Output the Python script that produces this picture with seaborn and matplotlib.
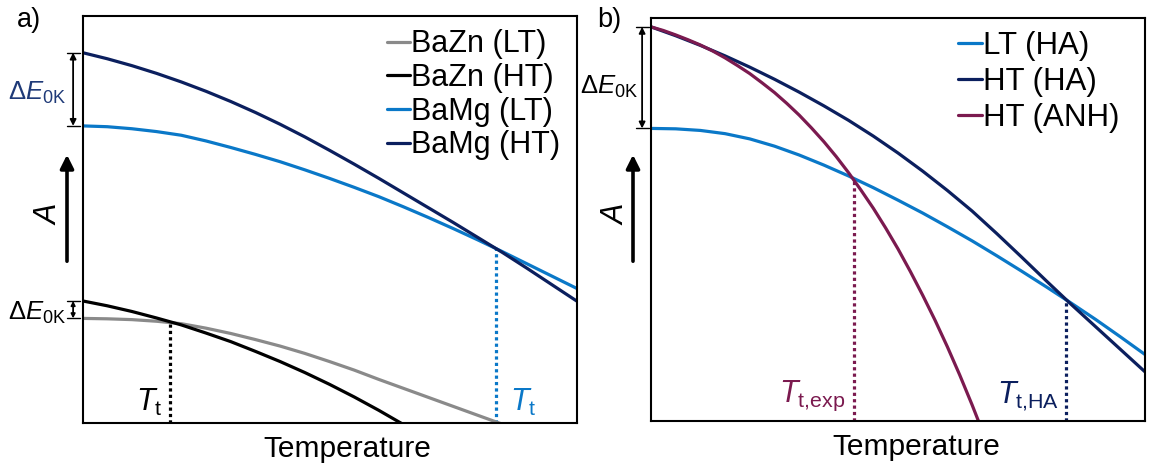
import numpy as np
import pandas as pd
import matplotlib.pyplot as plt
import matplotlib.patches as mpatches
import matplotlib.transforms as mtrans
import seaborn as sns

# schematic free energy A(T) curves (x: temperature, y: A, both 0..1)
temperature = [0.00, 0.05, 0.10, 0.15, 0.20, 0.25, 0.30, 0.35, 0.40, 0.45, 0.50,
               0.55, 0.60, 0.65, 0.70, 0.75, 0.80, 0.85, 0.90, 0.95, 1.00]
# finer grid for the steep anharmonic curve
temperature_fine = [0.000, 0.025, 0.050, 0.075, 0.100, 0.125, 0.150, 0.175, 0.200,
                    0.225, 0.250, 0.275, 0.300, 0.325, 0.350, 0.375, 0.400, 0.425,
                    0.450, 0.475, 0.500, 0.525, 0.550, 0.575, 0.600, 0.625, 0.650,
                    0.675, 0.700]

# panel a
bazn_lt = [0.257, 0.256, 0.254, 0.250, 0.244, 0.233, 0.220, 0.205, 0.189, 0.171, 0.151,
           0.130, 0.107, 0.085, 0.063, 0.041, 0.019, -0.003, -0.025]
bazn_ht = [0.300, 0.288, 0.274, 0.258, 0.241, 0.221, 0.200, 0.176, 0.151, 0.124, 0.095,
           0.064, 0.031, -0.004, -0.040]
bamg_lt = [0.730, 0.728, 0.723, 0.716, 0.707, 0.693, 0.677, 0.660, 0.642, 0.622, 0.601,
           0.579, 0.556, 0.531, 0.505, 0.478, 0.450, 0.421, 0.391, 0.361, 0.331]
bamg_ht = [0.910, 0.895, 0.878, 0.859, 0.838, 0.815, 0.790, 0.763, 0.734, 0.703, 0.670,
           0.636, 0.601, 0.565, 0.529, 0.493, 0.456, 0.419, 0.380, 0.340, 0.300]
labels_a = ['BaZn (LT)', 'BaZn (HT)', 'BaMg (LT)', 'BaMg (HT)']
tt_a = [0.177, 0.838]          # BaZn, BaMg transition

# panel b
lt_ha = [0.726, 0.725, 0.721, 0.713, 0.700, 0.682, 0.660, 0.635, 0.608, 0.579, 0.548,
         0.516, 0.482, 0.447, 0.410, 0.372, 0.333, 0.293, 0.252, 0.209, 0.165]
ht_ha = [0.978, 0.956, 0.932, 0.906, 0.878, 0.848, 0.816, 0.782, 0.746, 0.707, 0.665,
         0.620, 0.572, 0.521, 0.465, 0.407, 0.348, 0.290, 0.234, 0.178, 0.122]
ht_anh = [0.978, 0.969, 0.958, 0.946, 0.933, 0.918, 0.901, 0.882, 0.862, 0.839, 0.815,
          0.788, 0.759, 0.727, 0.693, 0.656, 0.616, 0.573, 0.528, 0.479, 0.427, 0.371,
          0.312, 0.250, 0.184, 0.114, 0.040, -0.038, -0.120]
labels_b = ['LT (HA)', 'HT (HA)', 'HT (ANH)']
tt_b = [0.410, 0.841]          # exp, HA

gray, black, blue, navy, maroon = '#8a8a8a', '#000000', '#0a78c8', '#0b1f5e', '#7b1a4f'

sns.set_style('white')
plt.rcParams['font.family'] = ['Liberation Sans', 'DejaVu Sans']
plt.rcParams['text.color'] = 'black'
plt.rcParams['axes.labelcolor'] = 'black'
plt.rcParams['mathtext.fontset'] = 'custom'
plt.rcParams['mathtext.rm'] = 'Liberation Sans'
plt.rcParams['mathtext.it'] = 'Liberation Sans:italic'


def long_df(series, grids, labels):
    parts = []
    for vals, grid, lab in zip(series, grids, labels):
        parts.append(pd.DataFrame({'T': grid[:len(vals)], 'A': vals, 'phase': lab}))
    return pd.concat(parts, ignore_index=True)


def delta_bracket(ax, y_lo, y_hi, xf, half, ms):
    tr = mtrans.blended_transform_factory(ax.transAxes, ax.transData)
    ax.annotate('', xy=(xf, y_hi), xytext=(xf, y_lo), xycoords=tr, textcoords=tr,
                arrowprops=dict(arrowstyle='<|-|>', color='black', lw=1.3,
                                shrinkA=0, shrinkB=0, mutation_scale=ms),
                annotation_clip=False)
    for y in (y_lo, y_hi):
        ax.plot([xf - half, xf + half], [y, y], color='black', lw=1.0,
                transform=tr, clip_on=False)


def style_axes(ax):
    ax.set_xlim(0, 1)
    ax.set_ylim(0, 1)
    ax.set_xticks([])
    ax.set_yticks([])
    ax.set_ylabel('')
    ax.set_xlabel('Temperature', fontsize=21.5)
    ax.xaxis.set_label_coords(0.537, -0.03)
    ax.xaxis.label.set_va('top')
    for sp in ax.spines.values():
        sp.set_color('black')
        sp.set_linewidth(1.5)


W, H = 1152, 466
fig = plt.figure(figsize=(W / 100, H / 100), dpi=100)
ax1 = fig.add_axes([82.5 / W, 1 - 423 / H, 494 / W, 407 / H])
ax2 = fig.add_axes([651 / W, 1 - 421 / H, 494 / W, 403 / H])

# ---- panel a
df_a = long_df([bazn_lt, bazn_ht, bamg_lt, bamg_ht], [temperature] * 4, labels_a)
sns.lineplot(data=df_a, x='T', y='A', hue='phase', hue_order=labels_a,
             palette=[gray, black, blue, navy], lw=2.3, sort=False, ax=ax1)
style_axes(ax1)
y_zn = np.interp(tt_a[0], temperature[:len(bazn_lt)], bazn_lt)
y_mg = np.interp(tt_a[1], temperature, bamg_lt)
ax1.vlines(tt_a[0], 0, y_zn, color=black, lw=2.3, linestyles=(0, (1, 1)), zorder=1)
ax1.vlines(tt_a[1], 0, y_mg, color=blue, lw=2.3, linestyles=(0, (1, 1)), zorder=1)
ax1.text(tt_a[0] - 0.016, 0.012, r'$T_\mathrm{t}$', fontsize=22, ha='right', va='bottom')
ax1.text(tt_a[1] + 0.028, 0.012, r'$T_\mathrm{t}$', fontsize=22, ha='left', va='bottom',
         color=blue)
ax1.legend(loc='upper right', bbox_to_anchor=(0.967, 0.967), frameon=False,
           fontsize=22, handlelength=0.75, handletextpad=0.05, labelspacing=0.12,
           borderpad=0, borderaxespad=0)

delta_bracket(ax1, bamg_lt[0], bamg_ht[0], -0.019, 0.013, 9)
delta_bracket(ax1, bazn_lt[0], bazn_ht[0], -0.019, 0.013, 6)
tr1 = mtrans.blended_transform_factory(ax1.transAxes, ax1.transData)
ax1.text(-0.033, (bamg_lt[0] + bamg_ht[0]) / 2 - 0.008, r'$\Delta E_\mathrm{0K}$',
         fontsize=18.5, color='#1f3a78', ha='right', va='center', transform=tr1)
ax1.text(-0.033, (bazn_lt[0] + bazn_ht[0]) / 2 - 0.008, r'$\Delta E_\mathrm{0K}$',
         fontsize=18.5, color='black', ha='right', va='center', transform=tr1)

# ---- panel b
df_b = long_df([lt_ha, ht_ha, ht_anh], [temperature, temperature, temperature_fine],
               labels_b)
sns.lineplot(data=df_b, x='T', y='A', hue='phase', hue_order=labels_b,
             palette=[blue, navy, maroon], lw=2.3, sort=False, ax=ax2)
style_axes(ax2)
y_exp = np.interp(tt_b[0], temperature, lt_ha)
y_ha = np.interp(tt_b[1], temperature, lt_ha)
ax2.vlines(tt_b[0], 0, y_exp, color=maroon, lw=2.3, linestyles=(0, (1, 1)), zorder=1)
ax2.vlines(tt_b[1], 0, y_ha, color=navy, lw=2.3, linestyles=(0, (1, 1)), zorder=1)
ax2.text(tt_b[0] - 0.016, 0.02, r'$T_\text{t,exp}$', fontsize=22, ha='right', va='bottom',
         color=maroon)
ax2.text(tt_b[1] - 0.014, 0.02, r'$T_\text{t,HA}$', fontsize=22, ha='right', va='bottom',
         color=navy)
ax2.legend(loc='upper right', bbox_to_anchor=(0.949, 0.968), frameon=False,
           fontsize=22.5, handlelength=0.75, handletextpad=0.05, labelspacing=0.2,
           borderpad=0, borderaxespad=0)

delta_bracket(ax2, lt_ha[0], ht_ha[0], -0.018, 0.013, 9)
tr2 = mtrans.blended_transform_factory(ax2.transAxes, ax2.transData)
ax2.text(-0.026, (lt_ha[0] + ht_ha[0]) / 2 - 0.022, r'$\Delta E_\mathrm{0K}$', fontsize=18.5,
         color='black', ha='right', va='center', transform=tr2)

# ---- free energy arrows, panel letters
for x_arr, x_lab in [(67, 48), (633, 615)]:
    fig.patches.append(mpatches.FancyArrowPatch(
        (x_arr, H - 264), (x_arr, H - 152), transform=None, arrowstyle='-|>',
        mutation_scale=20, lw=2.6, color='black'))
    fig.text(x_lab / W, 1 - 214 / H, r'$A$', fontsize=22, rotation=90,
             ha='center', va='center')
fig.text(17 / W, 1 - 7 / H, 'a)', fontsize=19.5, ha='left', va='top')
fig.text(597 / W, 1 - 7 / H, 'b)', fontsize=19.5, ha='left', va='top')

fig.savefig('out.png', dpi=100)
